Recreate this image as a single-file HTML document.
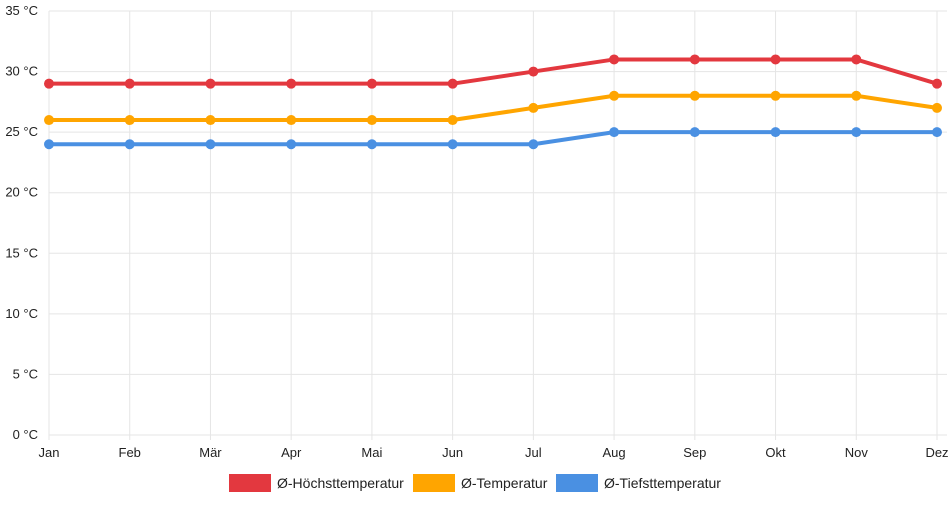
<!DOCTYPE html>
<html><head><meta charset="utf-8"><style>
body{margin:0;background:#fff;font-family:"Liberation Sans",sans-serif}
svg text{font-family:"Liberation Sans",sans-serif;font-size:13px;fill:#222}
svg text.leg{font-size:14px}
</style></head><body>
<svg id="chart" width="952" height="500" xmlns="http://www.w3.org/2000/svg"></svg>
<script>
const categories=["Jan","Feb","Mär","Apr","Mai","Jun","Jul","Aug","Sep","Okt","Nov","Dez"];
const highTemps=[29,29,29,29,29,29,30,31,31,31,31,29];
const avgTemps=[26,26,26,26,26,26,27,28,28,28,28,27];
const lowTemps=[24,24,24,24,24,24,24,25,25,25,25,25];
const yTicks=[0,5,10,15,20,25,30,35];
const seriesNames=["Ø-Höchsttemperatur","Ø-Temperatur","Ø-Tiefsttemperatur"];
const colors=["#e3383f","#ffa500","#4a90e2"];
const svg=document.getElementById('chart');
const NS="http://www.w3.org/2000/svg";
const x0=49,x1=937,yTop=11,yBot=435,yMax=35;
const xs=i=>x0+i*(x1-x0)/(categories.length-1);
const ys=v=>yBot-v*(yBot-yTop)/yMax;
function mk(t,a,p){const e=document.createElementNS(NS,t);for(const k in a)e.setAttribute(k,a[k]);(p||svg).appendChild(e);return e;}
yTicks.forEach(v=>{
  const l=mk('line',{x1:x0,x2:x1+10,y1:ys(v),y2:ys(v),stroke:'#e5e5e5','stroke-width':1});
  
  
  const t=mk('text',{x:38,y:ys(v)+4,'text-anchor':'end'});t.textContent=v+' °C';
  
  
});
categories.forEach((c,i)=>{
  const l=mk('line',{x1:xs(i),x2:xs(i),y1:yTop,y2:yBot+5,stroke:'#e5e5e5','stroke-width':1});
  
  
  const t=mk('text',{x:xs(i),y:457,'text-anchor':'middle'});t.textContent=c;
  
  
});
[highTemps,avgTemps,lowTemps].forEach((d,s)=>{
  const g=mk('g',{});
  
  
  const pl=mk('polyline',{points:d.map((v,i)=>xs(i)+','+ys(v)).join(' '),fill:'none',stroke:colors[s],'stroke-width':4},g);
  
  
  d.forEach((v,i)=>{
    const c=mk('circle',{cx:xs(i),cy:ys(v),r:5,fill:colors[s]},g);
    
    
  });
});
const legX=[229,413,556];
seriesNames.forEach((n,s)=>{
  const g=mk('g',{});
  
  
  mk('rect',{x:legX[s],y:474,width:42,height:18,fill:colors[s]},g);
  const t=mk('text',{x:legX[s]+48,y:488,class:'leg'},g);t.textContent=n;
});
</script>
</body></html>
